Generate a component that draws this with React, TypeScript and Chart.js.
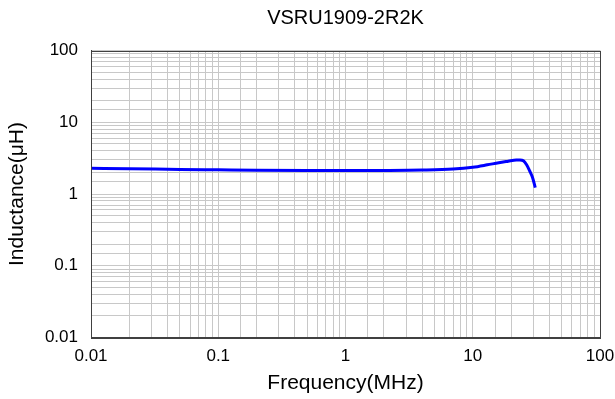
import React, { useEffect, useRef } from "react";
import { Chart, registerables } from "chart.js";

Chart.register(...registerables);

const chartTitle = "VSRU1909-2R2K";
const xTitle = "Frequency(MHz)";
const yTitle = "Inductance(μH)";

// Frequency in MHz
const frequency = [0.01, 0.02, 0.05, 0.1, 0.2, 0.5, 1, 2, 4, 7, 10, 13, 16, 19, 22, 23.5, 25, 26.5, 28, 29.5, 31];
// Inductance in µH
const inductance = [2.28, 2.25, 2.2, 2.17, 2.14, 2.12, 2.12, 2.13, 2.16, 2.23, 2.36, 2.55, 2.73, 2.86, 2.97, 2.98, 2.9, 2.55, 2.1, 1.7, 1.23];

const decadeValues = [0.01, 0.1, 1, 10, 100];
const decadeLabels = ["0.01", "0.1", "1", "10", "100"];

const FONT = "'Liberation Sans', Arial, sans-serif";

function labelFor(v: number): string {
  for (let i = 0; i < decadeValues.length; i++) {
    if (Math.abs(v - decadeValues[i]) / decadeValues[i] < 1e-6) return decadeLabels[i];
  }
  return "";
}

const framePlugin = {
  id: "frame",
  afterDraw(chart: any) {
    const { ctx, chartArea } = chart;
    ctx.save();
    ctx.strokeStyle = "#404040";
    ctx.lineWidth = 1;
    ctx.strokeRect(
      Math.round(chartArea.left) + 0.5,
      Math.round(chartArea.top) + 0.5,
      Math.round(chartArea.right - chartArea.left),
      Math.round(chartArea.bottom - chartArea.top)
    );
    // title centred over the plot area
    ctx.fillStyle = "#000";
    ctx.font = `20px ${FONT}`;
    ctx.textAlign = "center";
    ctx.textBaseline = "middle";
    ctx.fillText(chartTitle, (chartArea.left + chartArea.right) / 2, 18);
    ctx.restore();
  },
};

export default function App() {
  const ref = useRef<HTMLCanvasElement | null>(null);

  useEffect(() => {
    document.body.style.margin = "0";
    const canvas = ref.current;
    if (!canvas) return;
    const chart = new Chart(canvas, {
      type: "line",
      data: {
        datasets: [
          {
            data: frequency.map((f, i) => ({ x: f, y: inductance[i] })),
            borderColor: "rgb(0,0,255)",
            borderWidth: 3,
            pointRadius: 0,
            fill: false,
            cubicInterpolationMode: "monotone",
          },
        ],
      },
      options: {
        responsive: false,
        animation: false,
        devicePixelRatio: 1,
        layout: { padding: { left: 0, right: 0, top: 50.5, bottom: 0 } },
        plugins: {
          legend: { display: false },
          tooltip: { enabled: false },
          title: { display: false },
        },
        scales: {
          x: {
            type: "logarithmic",
            min: 0.01,
            max: 100,
            afterFit(scale: any) {
              scale.height = 61.5;
              scale.paddingRight = 15;
              scale.paddingLeft = 0;
            },
            grid: { color: "#c8c8c8", lineWidth: 1, drawTicks: false },
            border: { color: "#404040" },
            ticks: {
              autoSkip: false,
              maxRotation: 0,
              padding: 9,
              color: "#000",
              font: { family: FONT, size: 17 },
              callback: (v: any) => labelFor(Number(v)),
            },
            title: {
              display: true,
              text: xTitle,
              color: "#000",
              font: { family: FONT, size: 21 },
              padding: { top: 0, bottom: 3 },
            },
          },
          y: {
            type: "logarithmic",
            min: 0.01,
            max: 100,
            afterFit(scale: any) {
              scale.width = 91;
              scale.paddingTop = 0;
              scale.paddingBottom = 0;
            },
            grid: { color: "#c8c8c8", lineWidth: 1, drawTicks: false },
            border: { color: "#404040" },
            ticks: {
              autoSkip: false,
              padding: 13,
              color: "#000",
              font: { family: FONT, size: 17 },
              callback: (v: any) => labelFor(Number(v)),
            },
            title: {
              display: true,
              text: yTitle,
              color: "#000",
              font: { family: FONT, size: 21 },
              padding: { top: 5, bottom: 0 },
            },
          },
        },
      },
      plugins: [framePlugin],
    } as any);
    return () => chart.destroy();
  }, []);

  return (
    <div style={{ position: "absolute", left: 0, top: 0, width: 615, height: 399, background: "#fff" }}>
      <canvas ref={ref} width={615} height={399} style={{ width: 615, height: 399, display: "block" }} />
    </div>
  );
}
